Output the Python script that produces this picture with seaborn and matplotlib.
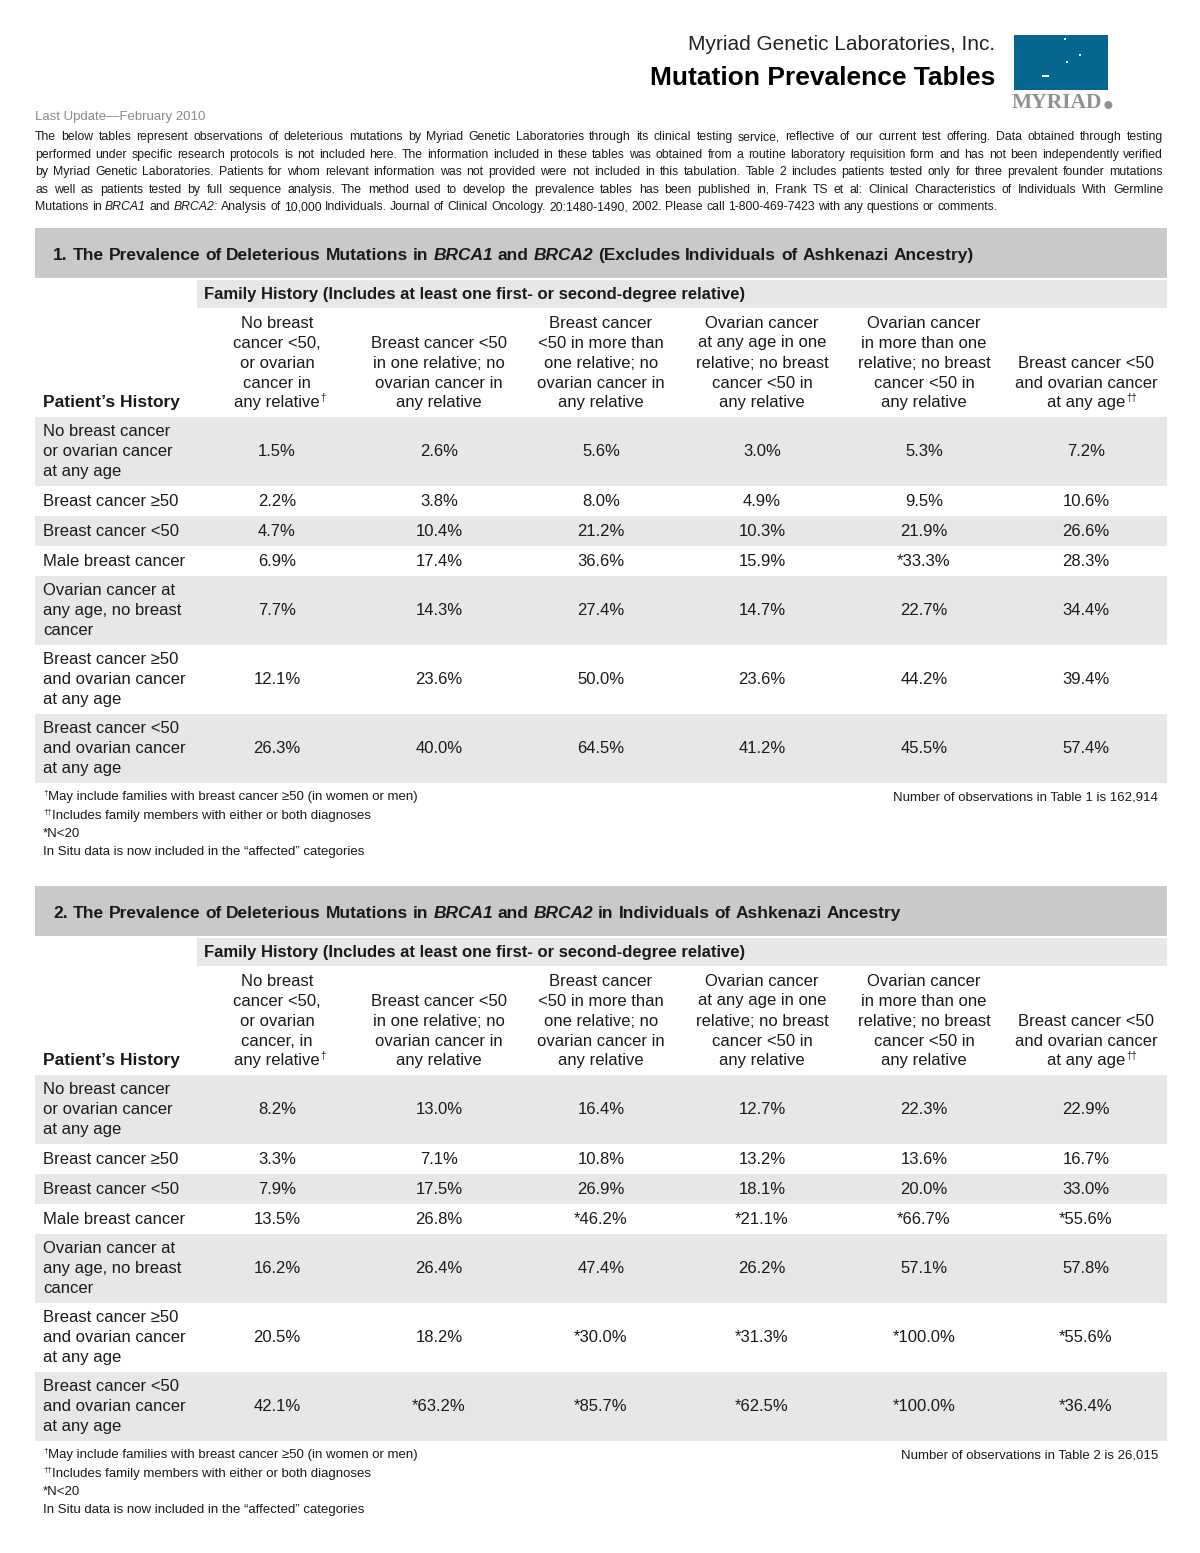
import matplotlib
matplotlib.use("Agg")
import matplotlib.pyplot as plt
import seaborn as sns
from matplotlib.patches import Rectangle, Circle

# ---- data ----
company = "Myriad Genetic Laboratories, Inc."
doc_title = "Mutation Prevalence Tables"
last_update = "Last Update\u2014February 2010"

intro_lines = [
    "The below tables represent observations of deleterious mutations by Myriad Genetic Laboratories through its clinical testing service, reflective of our current test offering. Data obtained through testing",
    "performed under specific research protocols is not included here. The information included in these tables was obtained from a routine laboratory requisition form and has not been independently verified",
    "by Myriad Genetic Laboratories. Patients for whom relevant information was not provided were not included in this tabulation. Table 2 includes patients tested only for three prevalent founder mutations",
    "as well as patients tested by full sequence analysis. The method used to develop the prevalence tables has been published in, Frank TS et al: Clinical Characteristics of Individuals With Germline",
    "Mutations in *BRCA1* and *BRCA2*: Analysis of 10,000 Individuals. Journal of Clinical Oncology. 20:1480-1490, 2002. Please call 1-800-469-7423 with any questions or comments.",
]

t1_title = "1. The Prevalence of Deleterious Mutations in *BRCA1* and *BRCA2* (Excludes Individuals of Ashkenazi Ancestry)"
t2_title = "2. The Prevalence of Deleterious Mutations in *BRCA1* and *BRCA2* in Individuals of Ashkenazi Ancestry"
family_label = "Family History (Includes at least one first- or second-degree relative)"
patient_label = "Patient\u2019s History"

t1_headers = [
    ["No breast", "cancer <50,", "or ovarian", "cancer in", "any relative"],
    ["Breast cancer <50", "in one relative; no", "ovarian cancer in", "any relative"],
    ["Breast cancer", "<50 in more than", "one relative; no", "ovarian cancer in", "any relative"],
    ["Ovarian cancer", "at any age in one", "relative; no breast", "cancer <50 in", "any relative"],
    ["Ovarian cancer", "in more than one", "relative; no breast", "cancer <50 in", "any relative"],
    ["Breast cancer <50", "and ovarian cancer", "at any age"],
]
t2_headers = [
    ["No breast", "cancer <50,", "or ovarian", "cancer, in", "any relative"],
    ["Breast cancer <50", "in one relative; no", "ovarian cancer in", "any relative"],
    ["Breast cancer", "<50 in more than", "one relative; no", "ovarian cancer in", "any relative"],
    ["Ovarian cancer", "at any age in one", "relative; no breast", "cancer <50 in", "any relative"],
    ["Ovarian cancer", "in more than one", "relative; no breast", "cancer <50 in", "any relative"],
    ["Breast cancer <50", "and ovarian cancer", "at any age"],
]
header_marks = ["\u2020", "", "", "", "", "\u2020\u2020"]

row_labels = [
    ["No breast cancer", "or ovarian cancer", "at any age"],
    ["Breast cancer \u226550"],
    ["Breast cancer <50"],
    ["Male breast cancer"],
    ["Ovarian cancer at", "any age, no breast", "cancer"],
    ["Breast cancer \u226550", "and ovarian cancer", "at any age"],
    ["Breast cancer <50", "and ovarian cancer", "at any age"],
]

t1_values = [
    [1.5, 2.6, 5.6, 3.0, 5.3, 7.2],
    [2.2, 3.8, 8.0, 4.9, 9.5, 10.6],
    [4.7, 10.4, 21.2, 10.3, 21.9, 26.6],
    [6.9, 17.4, 36.6, 15.9, 33.3, 28.3],
    [7.7, 14.3, 27.4, 14.7, 22.7, 34.4],
    [12.1, 23.6, 50.0, 23.6, 44.2, 39.4],
    [26.3, 40.0, 64.5, 41.2, 45.5, 57.4],
]
t1_small_n = [
    [0, 0, 0, 0, 0, 0],
    [0, 0, 0, 0, 0, 0],
    [0, 0, 0, 0, 0, 0],
    [0, 0, 0, 0, 1, 0],
    [0, 0, 0, 0, 0, 0],
    [0, 0, 0, 0, 0, 0],
    [0, 0, 0, 0, 0, 0],
]
t2_values = [
    [8.2, 13.0, 16.4, 12.7, 22.3, 22.9],
    [3.3, 7.1, 10.8, 13.2, 13.6, 16.7],
    [7.9, 17.5, 26.9, 18.1, 20.0, 33.0],
    [13.5, 26.8, 46.2, 21.1, 66.7, 55.6],
    [16.2, 26.4, 47.4, 26.2, 57.1, 57.8],
    [20.5, 18.2, 30.0, 31.3, 100.0, 55.6],
    [42.1, 63.2, 85.7, 62.5, 100.0, 36.4],
]
t2_small_n = [
    [0, 0, 0, 0, 0, 0],
    [0, 0, 0, 0, 0, 0],
    [0, 0, 0, 0, 0, 0],
    [0, 0, 1, 1, 1, 1],
    [0, 0, 0, 0, 0, 0],
    [0, 0, 1, 1, 1, 1],
    [0, 1, 1, 1, 1, 1],
]

footnotes = [
    ("\u2020", "May include families with breast cancer \u226550 (in women or men)"),
    ("\u2020\u2020", "Includes family members with either or both diagnoses"),
    ("", "*N<20"),
    ("", "In Situ data is now included in the \u201caffected\u201d categories"),
]
t1_count = "Number of observations in Table 1 is 162,914"
t2_count = "Number of observations in Table 2 is 26,015"

# ---- style ----
sns.set_theme(style="white")
plt.rcParams['font.family'] = ['Liberation Sans', 'DejaVu Sans']

INK = "#1a1a1a"
DARK_BAR = "#c8c9cb"
LIGHT_BAR = "#e6e7e8"
col_x = [277, 439, 601, 762, 924, 1086]

fig = plt.figure(figsize=(12, 15.53), dpi=100)
ax = fig.add_axes([0, 0, 1, 1])
ax.set_xlim(0, 1200)
ax.set_ylim(1553, 0)
ax.axis("off")
renderer = fig.canvas.get_renderer()


def text_width(s, **kw):
    t = ax.text(0, 0, s, **kw)
    w = t.get_window_extent(renderer).width
    t.remove()
    return w


def split_words(line):
    out = []
    for w in line.split(" "):
        if "*" in w:
            out.append((w.replace("*", ""), "italic"))
        else:
            out.append((w, "normal"))
    return out


def natural_width(line, size, weight="normal"):
    kw = dict(fontsize=size, fontweight=weight)
    sw = text_width("x x", **kw) - text_width("xx", **kw)
    words = split_words(line)
    return sum(text_width(w, fontstyle=st, **kw) for w, st in words) + sw * (len(words) - 1)


def place_words(line, x, y, size, weight="normal", ha="left", width=None, color=INK):
    # words wrapped in *...* are italic; width -> justify the line
    # all words share one baseline (y is the visual middle of capitals)
    words = split_words(line)
    yb = y + 0.36 * size * 100 / 72
    kw = dict(fontsize=size, fontweight=weight, color=color, va="baseline", ha="left")
    sw = text_width("x x", **kw) - text_width("xx", **kw)
    objs, ws = [], []
    for w, st in words:
        o = ax.text(0, yb, w, fontstyle=st, **kw)
        objs.append(o)
        ws.append(o.get_window_extent(renderer).width)
    natural = sum(ws) + sw * (len(ws) - 1)
    gap = sw
    if width is not None and len(ws) > 1:
        gap = (width - sum(ws)) / (len(ws) - 1)
        natural = width
    if ha == "right":
        x0 = x - natural
    elif ha == "center":
        x0 = x - natural / 2
    else:
        x0 = x
    for o, w in zip(objs, ws):
        o.set_x(x0)
        x0 += w + gap


# ---- header ----
ax.text(995, 45, company, fontsize=15, ha="right", va="center", color="#222222")
ax.text(995, 78, doc_title, fontsize=19, fontweight="bold", ha="right", va="center", color="black")
ax.add_patch(Rectangle((1014, 35), 94, 55, color="#05668f", lw=0))
for px, py, pw in [(1064, 38, 2), (1079, 54, 2), (1066, 61, 2), (1042, 75, 7)]:
    ax.add_patch(Rectangle((px, py), pw, 1.5, color="white", lw=0))
logo_kw = dict(fontsize=15.5, fontweight="bold", family=['Liberation Serif', 'DejaVu Serif'])
ax.text(1012, 103, "MYRIAD", ha="left", va="center", color="#8d9195", **logo_kw)
lw_ = text_width("MYRIAD", **logo_kw)
ax.add_patch(Circle((1012 + lw_ + 6, 105), 4, color="#8d9195", lw=0))

ax.text(35, 117, last_update, fontsize=9.5, ha="left", va="center", color="#8a8a8a")
para_size = 10.0
longest = max(natural_width(ln, para_size) for ln in intro_lines)
para_size = para_size * 1100 / longest
for i, line in enumerate(intro_lines):
    y = 136 + i * 17.5
    if i < len(intro_lines) - 1:
        place_words(line, 35, y, para_size, width=1128)
    else:
        place_words(line, 35, y, para_size)


# ---- tables ----
def draw_table(top, title, headers, values, small_n, count_text):
    ax.add_patch(Rectangle((35, top), 1132, 50, color=DARK_BAR, lw=0))
    place_words(title, 53, top + 26, 12.5, weight="bold")
    ax.add_patch(Rectangle((197, top + 52), 970, 28, color=LIGHT_BAR, lw=0))
    ax.text(204, top + 66, family_label, fontsize=12, fontweight="bold", ha="left", va="center", color=INK)
    base = top + 175
    ax.text(43, base, patient_label, fontsize=12.5, fontweight="bold", ha="left", va="center", color=INK)
    for cx, lines, mark in zip(col_x, headers, header_marks):
        n = len(lines)
        for j, ln in enumerate(lines):
            yy = base - (n - 1 - j) * 20
            ax.text(cx, yy, ln, fontsize=12, ha="center", va="center", color=INK)
        if mark:
            w = text_width(lines[-1], fontsize=12)
            ax.text(cx + w / 2 + 1, base - 5, mark, fontsize=7, ha="left", va="center", color=INK)
    y = top + 189
    for r, (lab, vals, flags) in enumerate(zip(row_labels, values, small_n)):
        h = 30 + 19.5 * (len(lab) - 1)
        if r % 2 == 0:
            ax.add_patch(Rectangle((35, y), 1132, h, color=LIGHT_BAR, lw=0))
        mid = y + h / 2
        for j, ln in enumerate(lab):
            ax.text(43, mid + (j - (len(lab) - 1) / 2) * 20, ln, fontsize=12,
                    ha="left", va="center", color=INK)
        for cx, v, f in zip(col_x, vals, flags):
            s = ("*" if f else "") + f"{v:.1f}%"
            ax.text(cx, mid, s, fontsize=12, ha="center", va="center", color=INK)
        y += h
    fy = y + 14
    for k, (mark, note) in enumerate(footnotes):
        yy = fy + k * 18.5
        if mark:
            ax.text(43, yy - 3, mark, fontsize=6, ha="left", va="center", color=INK)
            mw = text_width(mark, fontsize=6)
            ax.text(43 + mw, yy, note, fontsize=9.5, ha="left", va="center", color=INK)
        else:
            ax.text(43, yy, note, fontsize=9.5, ha="left", va="center", color=INK)
    ax.text(1158, fy, count_text, fontsize=9.5, ha="right", va="center", color=INK)


draw_table(228, t1_title, t1_headers, t1_values, t1_small_n, t1_count)
draw_table(886, t2_title, t2_headers, t2_values, t2_small_n, t2_count)

fig.savefig("out.png", dpi=100, facecolor="white")
